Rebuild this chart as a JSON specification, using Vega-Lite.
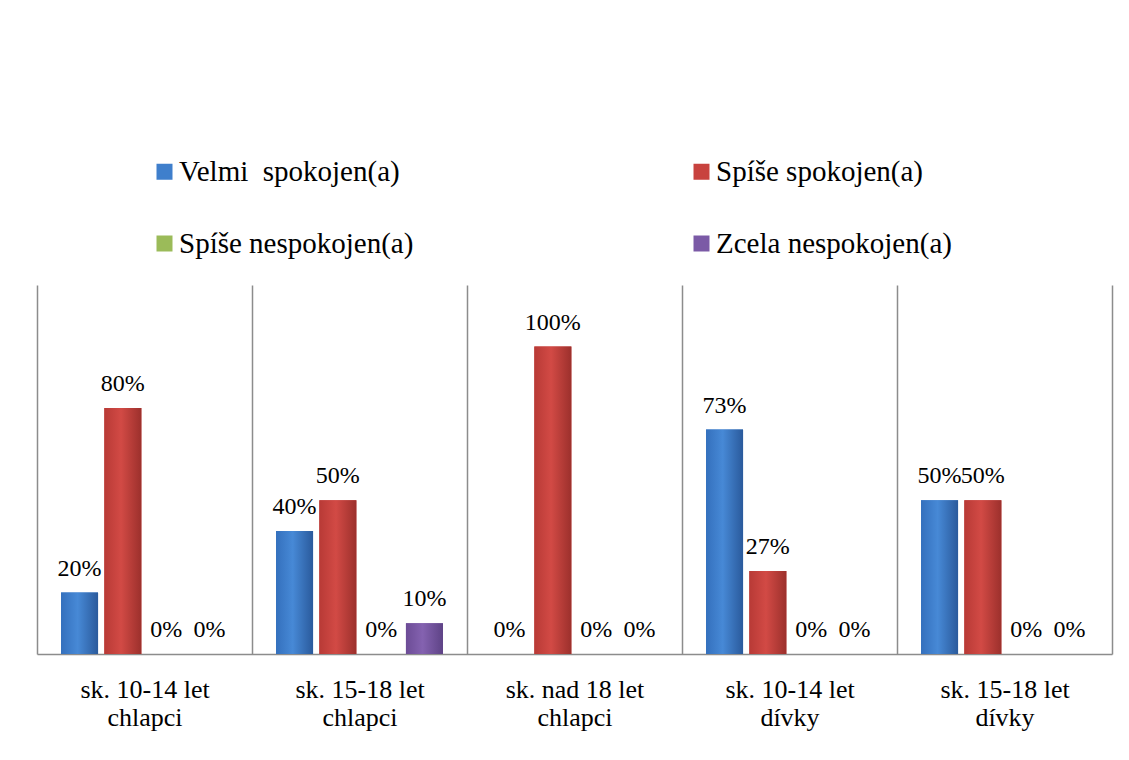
{
  "$schema": "https://vega.github.io/schema/vega-lite/v6.json",
  "width": 1075,
  "height": 369,
  "autosize": {"type": "none"},
  "padding": {"left": 37, "top": 285, "right": 17, "bottom": 106},
  "background": "white",
  "config": {"view": {"stroke": null}, "font": "Liberation Serif"},
  "data": {
    "values": [
      {"g": "sk. 10-14 let|chlapci", "s": "Velmi  spokojen(a)", "v": 0.2},
      {"g": "sk. 10-14 let|chlapci", "s": "Spíše spokojen(a)", "v": 0.8},
      {"g": "sk. 10-14 let|chlapci", "s": "Spíše nespokojen(a)", "v": 0},
      {"g": "sk. 10-14 let|chlapci", "s": "Zcela nespokojen(a)", "v": 0},
      {"g": "sk. 15-18 let|chlapci", "s": "Velmi  spokojen(a)", "v": 0.4},
      {"g": "sk. 15-18 let|chlapci", "s": "Spíše spokojen(a)", "v": 0.5},
      {"g": "sk. 15-18 let|chlapci", "s": "Spíše nespokojen(a)", "v": 0},
      {"g": "sk. 15-18 let|chlapci", "s": "Zcela nespokojen(a)", "v": 0.1},
      {"g": "sk. nad 18 let|chlapci", "s": "Velmi  spokojen(a)", "v": 0},
      {"g": "sk. nad 18 let|chlapci", "s": "Spíše spokojen(a)", "v": 1.0},
      {"g": "sk. nad 18 let|chlapci", "s": "Spíše nespokojen(a)", "v": 0},
      {"g": "sk. nad 18 let|chlapci", "s": "Zcela nespokojen(a)", "v": 0},
      {"g": "sk. 10-14 let|dívky", "s": "Velmi  spokojen(a)", "v": 0.73},
      {"g": "sk. 10-14 let|dívky", "s": "Spíše spokojen(a)", "v": 0.27},
      {"g": "sk. 10-14 let|dívky", "s": "Spíše nespokojen(a)", "v": 0},
      {"g": "sk. 10-14 let|dívky", "s": "Zcela nespokojen(a)", "v": 0},
      {"g": "sk. 15-18 let|dívky", "s": "Velmi  spokojen(a)", "v": 0.5},
      {"g": "sk. 15-18 let|dívky", "s": "Spíše spokojen(a)", "v": 0.5},
      {"g": "sk. 15-18 let|dívky", "s": "Spíše nespokojen(a)", "v": 0},
      {"g": "sk. 15-18 let|dívky", "s": "Zcela nespokojen(a)", "v": 0}
    ]
  },
  "encoding": {
    "x": {
      "field": "g",
      "type": "nominal",
      "scale": {
        "domain": ["sk. 10-14 let|chlapci", "sk. 15-18 let|chlapci", "sk. nad 18 let|chlapci", "sk. 10-14 let|dívky", "sk. 15-18 let|dívky"],
        "paddingInner": 0,
        "paddingOuter": 0
      },
      "axis": {
        "title": null,
        "labelExpr": "split(datum.label, '|')",
        "labelFont": "Liberation Serif",
        "labelFontSize": 26,
        "labelColor": "black",
        "labelPadding": 22,
        "labelLineHeight": 28,
        "labelAngle": 0,
        "ticks": false,
        "tickBand": "extent",
        "grid": true,
        "gridColor": "#8c8c8c",
        "gridWidth": 1.5,
        "domainColor": "#8c8c8c",
        "domainWidth": 1.5
      }
    },
    "xOffset": {
      "field": "s",
      "type": "nominal",
      "scale": {
        "domain": ["Velmi  spokojen(a)", "Spíše spokojen(a)", "Spíše nespokojen(a)", "Zcela nespokojen(a)"],
        "paddingInner": 0.145,
        "paddingOuter": 0.555
      }
    },
    "y": {
      "field": "v",
      "type": "quantitative",
      "scale": {"domain": [0, 1.2]},
      "axis": null
    }
  },
  "layer": [
    {
      "mark": {"type": "bar"},
      "encoding": {
        "color": {
          "field": "s",
          "type": "nominal",
          "scale": {
            "domain": ["Velmi  spokojen(a)", "Spíše spokojen(a)", "Spíše nespokojen(a)", "Zcela nespokojen(a)"],
            "range": ["#3f7fcc", "#c8423e", "#9bbb59", "#7b5aa6"]
          },
          "legend": {
            "orient": "none",
            "legendX": 113,
            "legendY": -128,
            "columns": 2,
            "direction": "horizontal",
            "title": null,
            "symbolType": "square",
            "symbolSize": 256,
            "symbolStrokeWidth": 0,
            "symbolOpacity": 1,
            "labelFont": "Liberation Serif",
            "labelFontSize": 29,
            "labelColor": "black",
            "labelLimit": 500,
            "labelOffset": 0,
            "rowPadding": 42,
            "columnPadding": 273,
            "labelExpr": "replace(datum.label, '  ', '\u00a0 ')"
          }
        }
      }
    },
    {
      "transform": [{"filter": "datum.s === 'Velmi  spokojen(a)'"}],
      "mark": {
        "type": "bar",
        "fill": {"gradient": "linear", "x1": 0, "y1": 0, "x2": 1, "y2": 0,
          "stops": [{"offset": 0, "color": "#3470bd"}, {"offset": 0.45, "color": "#4789d6"}, {"offset": 1, "color": "#2a5a9c"}]}
      }
    },
    {
      "transform": [{"filter": "datum.s === 'Spíše spokojen(a)'"}],
      "mark": {
        "type": "bar",
        "fill": {"gradient": "linear", "x1": 0, "y1": 0, "x2": 1, "y2": 0,
          "stops": [{"offset": 0, "color": "#b83a36"}, {"offset": 0.45, "color": "#d24a45"}, {"offset": 1, "color": "#9c302c"}]}
      }
    },
    {
      "transform": [{"filter": "datum.s === 'Spíše nespokojen(a)'"}],
      "mark": {
        "type": "bar",
        "fill": {"gradient": "linear", "x1": 0, "y1": 0, "x2": 1, "y2": 0,
          "stops": [{"offset": 0, "color": "#86a844"}, {"offset": 0.45, "color": "#a5c660"}, {"offset": 1, "color": "#7a9a3c"}]}
      }
    },
    {
      "transform": [{"filter": "datum.s === 'Zcela nespokojen(a)'"}],
      "mark": {
        "type": "bar",
        "fill": {"gradient": "linear", "x1": 0, "y1": 0, "x2": 1, "y2": 0,
          "stops": [{"offset": 0, "color": "#6c4c96"}, {"offset": 0.45, "color": "#8462b0"}, {"offset": 1, "color": "#5e4386"}]}
      }
    },
    {
      "mark": {"type": "text", "baseline": "alphabetic", "dy": -17, "fontSize": 24, "font": "Liberation Serif", "color": "black"},
      "encoding": {"text": {"field": "v", "type": "quantitative", "format": ".0%"}}
    }
  ]
}
